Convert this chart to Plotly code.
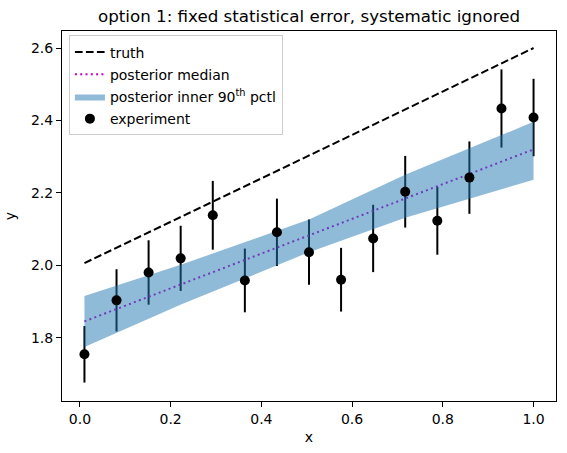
import plotly.graph_objects as go

# experiment data
x_exp = [0.01, 0.0807, 0.1514, 0.2221, 0.2929, 0.3636, 0.4343, 0.505,
         0.5757, 0.6464, 0.7171, 0.7879, 0.8586, 0.9293, 1.0]
y_exp = [1.754, 1.903, 1.980, 2.019, 2.138, 1.958, 2.091, 2.036,
         1.960, 2.074, 2.203, 2.123, 2.242, 2.433, 2.408]
err_exp = [0.078, 0.086, 0.089, 0.090, 0.095, 0.088, 0.093, 0.090,
           0.088, 0.093, 0.099, 0.094, 0.100, 0.108, 0.107]

# truth line
x_truth = [0.01, 1.0]
y_truth = [2.006, 2.600]

# posterior median
x_med = [0.01, 1.0]
y_med = [1.845, 2.320]

# posterior inner 90th percentile band
x_band = [0.01, 0.224, 0.505, 0.717, 1.0]
band_lo = [1.774, 1.892, 2.036, 2.131, 2.236]
band_hi = [1.915, 2.002, 2.126, 2.250, 2.396]

FONT = "DejaVu Sans"
fig = go.Figure()

# error bars (drawn under band)
fig.add_trace(go.Scatter(
    x=x_exp, y=y_exp, mode="markers",
    marker=dict(size=10, color="rgba(0,0,0,0)"),
    error_y=dict(type="data", array=err_exp, visible=True, color="black",
                 thickness=2, width=0),
    showlegend=False, hoverinfo="skip"))

# posterior median
fig.add_trace(go.Scatter(
    x=x_med, y=y_med, mode="lines", name="posterior median",
    line=dict(color="#bf00bf", width=2, dash="2px,3.3px"), legendrank=2,
    legendgroup="b"))

# band
fig.add_trace(go.Scatter(
    x=x_band, y=band_lo, mode="lines", line=dict(width=0),
    showlegend=False, hoverinfo="skip", legendgroup="c"))
fig.add_trace(go.Scatter(
    x=x_band, y=band_hi, mode="lines", line=dict(width=0),
    fill="tonexty", fillcolor="rgba(31,119,180,0.5)",
    name="posterior inner 90<sup>th</sup> pctl", legendrank=3,
    legendgroup="c"))

# markers on top
fig.add_trace(go.Scatter(
    x=x_exp, y=y_exp, mode="markers", name="experiment",
    marker=dict(size=10, color="black"), legendrank=4, legendgroup="d"))

# truth
fig.add_trace(go.Scatter(
    x=x_truth, y=y_truth, mode="lines", name="truth",
    line=dict(color="black", width=2, dash="7.7px,3.3px"), legendrank=1,
    legendgroup="a"))

axis_common = dict(
    showline=True, linecolor="black", linewidth=1.1, mirror=True,
    ticks="outside", ticklen=5, tickwidth=1.1, tickcolor="black",
    showgrid=False, zeroline=False,
    tickfont=dict(family=FONT, size=14, color="black"),
    tickformat=".1f",
)

fig.update_layout(
    width=567, height=453,
    margin=dict(l=61, r=10, t=31, b=52),
    paper_bgcolor="white", plot_bgcolor="white",
    font=dict(family=FONT, size=14, color="black"),
    title=dict(text="option 1: fixed statistical error, systematic ignored",
               x=0.545, xanchor="center", y=1 - 16 / 453, yref="container",
               yanchor="middle", font=dict(family=FONT, size=16.7, color="black")),
    xaxis=dict(range=[-0.0395, 1.0495], tickvals=[0.0, 0.2, 0.4, 0.6, 0.8, 1.0],
               title=dict(text="x", standoff=6, font=dict(size=14)), **axis_common),
    yaxis=dict(range=[1.625, 2.647], tickvals=[1.8, 2.0, 2.2, 2.4, 2.6],
               title=dict(text="y", standoff=11, font=dict(size=14)), **axis_common),
    legend=dict(x=0.014, y=0.988, xanchor="left", yanchor="top",
                traceorder="grouped", tracegroupgap=1,
                bgcolor="rgba(255,255,255,0.8)", bordercolor="#cccccc",
                borderwidth=1, font=dict(family=FONT, size=14, color="black"),
                itemwidth=30),
)

fig.write_html("out.html")
